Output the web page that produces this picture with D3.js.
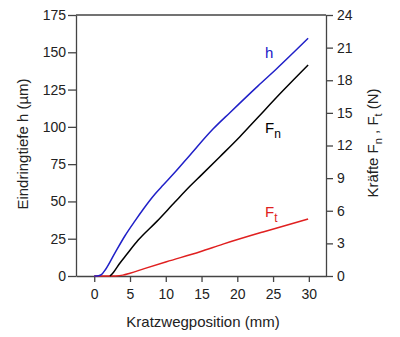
<!DOCTYPE html>
<html><head><meta charset="utf-8">
<script src="https://cdn.jsdelivr.net/npm/d3@7"></script>
<style>body{margin:0;background:#fff}svg{display:block}text{font-family:"Liberation Sans",Arial,sans-serif}</style>
</head><body>
<svg id="c" width="400" height="337"></svg>
<script>
// Data
const hX = [0, 0.6, 1.0, 1.6, 2.9, 4.3, 5.7, 6.85, 8.5, 9.64, 11.28, 13.37, 16.6, 18.96, 22.9, 25.5, 29.9];
const hY = [0, 0.2, 0.9, 4.5, 15.5, 27, 37, 44.8, 55, 61, 69.5, 81, 98.5, 109.5, 127.5, 139, 159.4]; // µm
const fnX = [2.2, 2.7, 3.6, 4.5, 6.15, 8.72, 11.28, 13.37, 15.0, 17.57, 20.36, 22.9, 26.4, 29.9];
const fnY = [0, 0.35, 1.2, 1.95, 3.3, 5.0, 6.8, 8.25, 9.3, 10.97, 12.81, 14.6, 17.05, 19.4]; // N
const ftX = [0, 2.0, 3.0, 4.0, 5.0, 7.0, 10.1, 14.8, 18.0, 23.6, 29.9];
const ftY = [0, 0, 0.01, 0.08, 0.26, 0.68, 1.31, 2.23, 2.93, 4.05, 5.24]; // N
const xTicks = [0, 5, 10, 15, 20, 25, 30];
const yLeftTicks = [0, 25, 50, 75, 100, 125, 150, 175];
const yRightTicks = [0, 3, 6, 9, 12, 15, 18, 21, 24];

const L = 76, R = 326, T = 15, B = 276;
const svg = d3.select("#c");
const x = d3.scaleLinear().domain([-2.55, 32.4]).range([L, R]);
const yl = d3.scaleLinear().domain([0, 175]).range([B, T]);
const yr = d3.scaleLinear().domain([0, 24]).range([B, T]);
const axCol = "#444";

function style(g){
  g.selectAll("path,line").attr("stroke", axCol).attr("stroke-width", 1.3);
  g.selectAll("text").attr("font-size", 14).attr("fill", "#222");
}
svg.append("g").attr("transform", `translate(${L},0)`)
  .call(d3.axisLeft(yl).tickValues(yLeftTicks).tickSize(8).tickPadding(2).tickSizeOuter(0)).call(style);
svg.append("g").attr("transform", `translate(${R},0)`)
  .call(d3.axisRight(yr).tickValues(yRightTicks).tickSize(7).tickPadding(4).tickSizeOuter(0)).call(style);
svg.append("g").attr("transform", `translate(0,${B})`)
  .call(d3.axisBottom(x).tickValues(xTicks).tickSize(6).tickPadding(7).tickSizeOuter(0)).call(style);
svg.append("line").attr("x1", L).attr("x2", R).attr("y1", T).attr("y2", T)
  .attr("stroke", axCol).attr("stroke-width", 1.3);

const lineL = d3.line().x(d => x(d[0])).y(d => yl(d[1])).curve(d3.curveMonotoneX);
const lineR = d3.line().x(d => x(d[0])).y(d => yr(d[1])).curve(d3.curveMonotoneX);
svg.append("path").datum(ftX.map((v,i)=>[v, ftY[i]])).attr("d", lineR)
  .attr("fill","none").attr("stroke","#e02020").attr("stroke-width",1.5);
svg.append("path").datum(fnX.map((v,i)=>[v, fnY[i]])).attr("d", lineR)
  .attr("fill","none").attr("stroke","#000").attr("stroke-width",1.5);
svg.append("path").datum(hX.map((v,i)=>[v, hY[i]])).attr("d", lineL)
  .attr("fill","none").attr("stroke","#2020c8").attr("stroke-width",1.5);

// series labels
svg.append("text").attr("x", 265).attr("y", 57.5).attr("font-size", 15).attr("fill", "#2020c8").text("h");
const fn = svg.append("text").attr("x", 265).attr("y", 133).attr("font-size", 15).attr("fill", "#000");
fn.append("tspan").text("F");
fn.append("tspan").attr("dy", 4.5).attr("font-size", 12).text("n");
const ft = svg.append("text").attr("x", 265).attr("y", 217).attr("font-size", 15).attr("fill", "#e02020");
ft.append("tspan").text("F");
ft.append("tspan").attr("dy", 4.5).attr("font-size", 12).text("t");

// axis titles
svg.append("text").attr("x", 203).attr("y", 327).attr("text-anchor", "middle")
  .attr("font-size", 15).attr("fill", "#222").text("Kratzwegposition (mm)");
svg.append("text").attr("transform", "translate(27.5,144) rotate(-90)").attr("text-anchor", "middle")
  .attr("font-size", 15).attr("fill", "#222").text("Eindringtiefe h (µm)");
const rt = svg.append("text").attr("transform", "translate(378,143) rotate(-90)").attr("text-anchor", "middle")
  .attr("font-size", 15).attr("fill", "#222");
rt.append("tspan").text("Kräfte F");
rt.append("tspan").attr("dy", 3.5).attr("font-size", 11).text("n");
rt.append("tspan").attr("dy", -3.5).text(" , F");
rt.append("tspan").attr("dy", 3.5).attr("font-size", 11).text("t");
rt.append("tspan").attr("dy", -3.5).text("  (N)");
</script>
</body></html>
